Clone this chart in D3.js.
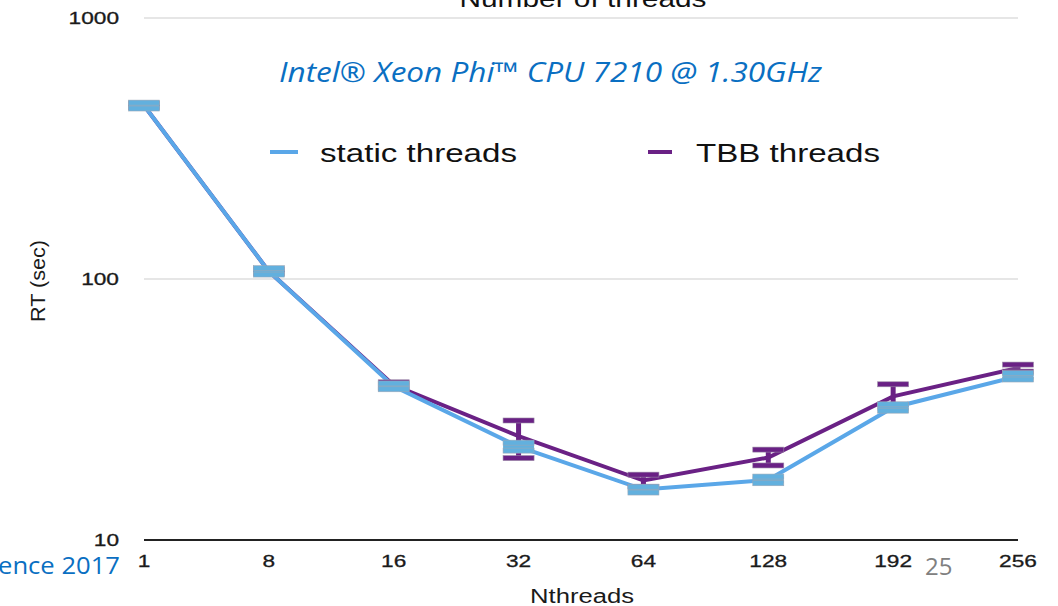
<!DOCTYPE html>
<html><head><meta charset="utf-8">
<script src="https://cdn.jsdelivr.net/npm/d3@7"></script>
<style>body{margin:0;background:#fff}svg{display:block}</style>
</head><body>
<svg id="c" width="1058" height="606"></svg>
<script>
const categories = ["1","8","16","32","64","128","192","256"];
const staticVals = [462, 107, 38.8, 22.8, 15.6, 17.0, 32.2, 42.4];
const staticLo   = [450, 104, 37.8, 22.0, 15.2, 16.5, 31.3, 41.2];
const staticHi   = [474, 110, 39.8, 23.6, 16.0, 17.5, 33.1, 43.6];
const tbbVals = [462, 107, 39.2, 25.0, 16.9, 20.7, 35.5, 45.6];
const tbbLo   = [455, 105, 38.2, 20.6, 16.0, 19.3, 33.0, 44.2];
const tbbHi   = [470, 109, 40.2, 28.7, 17.8, 22.2, 39.5, 47.0];
const yTicks = [10, 100, 1000];

const svg = d3.select("#c");
const x = d3.scalePoint().domain(categories).range([144, 1018]);
const y = d3.scaleLog().domain([10, 1000]).range([540, 18]);
const HEL = "Liberation Sans, Arial, sans-serif";

// gridlines
svg.append("g").selectAll("line").data(yTicks.filter(d=>d>10)).join("line")
  .attr("x1",144).attr("x2",1018).attr("y1",d=>y(d)).attr("y2",d=>y(d))
  .attr("stroke","#e6e6e6").attr("stroke-width",2);
svg.append("line").attr("x1",144).attr("x2",1018).attr("y1",y(10)).attr("y2",y(10))
  .attr("stroke","#222").attr("stroke-width",2);

// y ticks
svg.append("g").selectAll("text").data(yTicks).join("text")
  .attr("x",119).attr("y",d=>y(d)+6).attr("text-anchor","end")
  .attr("textLength",d=>String(d).length*12.6).attr("lengthAdjust","spacingAndGlyphs")
  .attr("font-family",HEL).attr("font-size",16)
  .attr("fill","#1a1a1a").attr("stroke","#1a1a1a").attr("stroke-width",0.3)
  .text(d=>d);
// x ticks
svg.append("g").selectAll("text").data(categories).join("text")
  .attr("x",d=>x(d)).attr("y",567).attr("text-anchor","middle")
  .attr("textLength",d=>d.length*12.6).attr("lengthAdjust","spacingAndGlyphs")
  .attr("font-family",HEL).attr("font-size",17)
  .attr("fill","#1a1a1a").attr("stroke","#1a1a1a").attr("stroke-width",0.3)
  .text(d=>d);

// axis titles
svg.append("text").attr("x",582).attr("y",603).attr("text-anchor","middle")
  .attr("textLength",104).attr("lengthAdjust","spacingAndGlyphs")
  .attr("font-family",HEL).attr("font-size",20)
  .attr("fill","#1a1a1a").text("Nthreads");
svg.append("text").attr("transform","translate(45,281) rotate(-90)").attr("text-anchor","middle")
  .attr("textLength",82).attr("lengthAdjust","spacingAndGlyphs")
  .attr("font-family",HEL).attr("font-size",21)
  .attr("fill","#1a1a1a").text("RT (sec)");
svg.append("text").attr("x",583).attr("y",7).attr("text-anchor","middle")
  .attr("textLength",247).attr("lengthAdjust","spacingAndGlyphs")
  .attr("font-family",HEL).attr("font-size",24)
  .attr("fill","#111").text("Number of threads");

// subtitle
svg.append("text").attr("x",279).attr("y",82).attr("textLength",543).attr("lengthAdjust","spacingAndGlyphs")
  .attr("font-family","Open Sans, Noto Sans, sans-serif").attr("font-style","italic").attr("font-size",27)
  .attr("fill","#0a6fc2").text("Intel® Xeon Phi™ CPU 7210 @ 1.30GHz");

// legend
const leg = [
  {label:"static threads", color:"#5aa7e8", x1:270, x2:298, tx:320, w:197},
  {label:"TBB threads", color:"#6a2185", x1:648, x2:672, tx:696, w:184}
];
leg.forEach(l=>{
  svg.append("line").attr("x1",l.x1).attr("x2",l.x2).attr("y1",152).attr("y2",152)
    .attr("stroke",l.color).attr("stroke-width",4);
  svg.append("text").attr("x",l.tx).attr("y",162)
    .attr("textLength",l.w).attr("lengthAdjust","spacingAndGlyphs")
    .attr("font-family",HEL).attr("font-size",26)
    .attr("fill","#111").text(l.label);
});

// lines
const lineGen = d3.line().x((d,i)=>x(categories[i])).y(d=>y(d));
svg.append("path").datum(tbbVals).attr("d",lineGen).attr("fill","none")
  .attr("stroke","#6a2185").attr("stroke-width",4);
svg.append("path").datum(staticVals).attr("d",lineGen).attr("fill","none")
  .attr("stroke","#5aa7e8").attr("stroke-width",4);

// error bars
function errBars(lo, hi, color, capH, stemW, stroke){
  const g = svg.append("g");
  categories.forEach((c,i)=>{
    const cx = x(c), yt = y(hi[i]), yb = y(lo[i]);
    g.append("rect").attr("x",cx-stemW/2).attr("y",yt).attr("width",stemW).attr("height",Math.max(0,yb-yt)).attr("fill",color);
    g.append("rect").attr("x",cx-15.5).attr("y",yt-capH/2).attr("width",31).attr("height",capH).attr("fill",color).attr("stroke",stroke).attr("stroke-width",0.6);
    g.append("rect").attr("x",cx-15.5).attr("y",yb-capH/2).attr("width",31).attr("height",capH).attr("fill",color).attr("stroke",stroke).attr("stroke-width",0.6);
  });
}
errBars(tbbLo, tbbHi, "#6a2185", 5, 5, "#9a8aa6");
errBars(staticLo, staticHi, "#62b0de", 5, 31, "#9aa8b8");

// slide decorations
svg.append("text").attr("x",-2).attr("y",574)
  .attr("textLength",122).attr("lengthAdjust","spacingAndGlyphs")
  .attr("font-family","Open Sans, Noto Sans, sans-serif").attr("font-size",24)
  .attr("fill","#0a6fc2").text("ence 2017");
svg.append("text").attr("x",925).attr("y",575)
  .attr("font-family","Open Sans, Noto Sans, sans-serif").attr("font-size",24)
  .attr("fill","#808080").text("25");
</script>
</body></html>
